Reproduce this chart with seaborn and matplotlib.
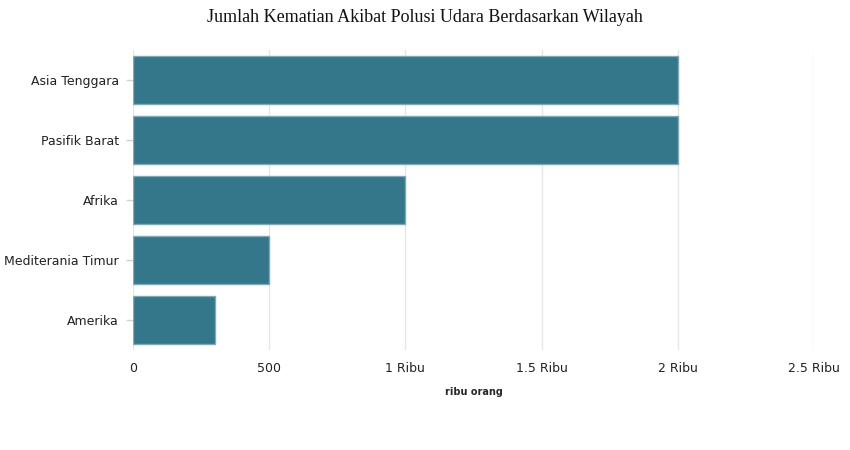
import matplotlib
matplotlib.use("Agg")
import matplotlib.pyplot as plt
import seaborn as sns
import pandas as pd

categories = ["Asia Tenggara", "Pasifik Barat", "Afrika", "Mediterania Timur", "Amerika"]
values = [2000, 2000, 1000, 500, 300]
tick_values = [0, 500, 1000, 1500, 2000, 2500]
tick_labels = ["0", "500", "1 Ribu", "1.5 Ribu", "2 Ribu", "2.5 Ribu"]

df = pd.DataFrame({"wilayah": categories, "jumlah": values})

sns.set_style("white")
plt.rcParams["font.family"] = ["DejaVu Sans"]

fig = plt.figure(figsize=(8.5, 4.5), dpi=100)
ax = fig.add_axes([133/850, 1-350/450, (814-133)/850, (350-50)/450])

sns.barplot(data=df, x="jumlah", y="wilayah", orient="h", color="#34768A",
            saturation=1, width=0.79, edgecolor="#7FA9B5", linewidth=1, ax=ax, zorder=3)

ax.set_xlim(0, 2500)
ax.set_ylim(4.5, -0.5)
ax.set_xticks(tick_values)
ax.set_xticklabels(tick_labels)
ax.grid(axis="x", color="#E6E6E6", linewidth=1, zorder=0)
ax.grid(axis="y", visible=False)
for s in ax.spines.values():
    s.set_visible(False)
ax.tick_params(axis="y", left=True, length=5, width=1, color="#D0D0D0", labelsize=9, labelcolor="#222222", pad=5)
ax.tick_params(axis="x", length=0, labelsize=9, labelcolor="#222222", pad=9)
ax.set_ylabel("")
ax.set_xlabel("ribu orang", fontsize=7, fontweight="bold", labelpad=8)

fig.text(0.5, 1-17/450, "Jumlah Kematian Akibat Polusi Udara Berdasarkan Wilayah",
         ha="center", va="center", fontsize=13, family=["Liberation Serif"], color="#111111")

fig.savefig("out.png", dpi=100)
